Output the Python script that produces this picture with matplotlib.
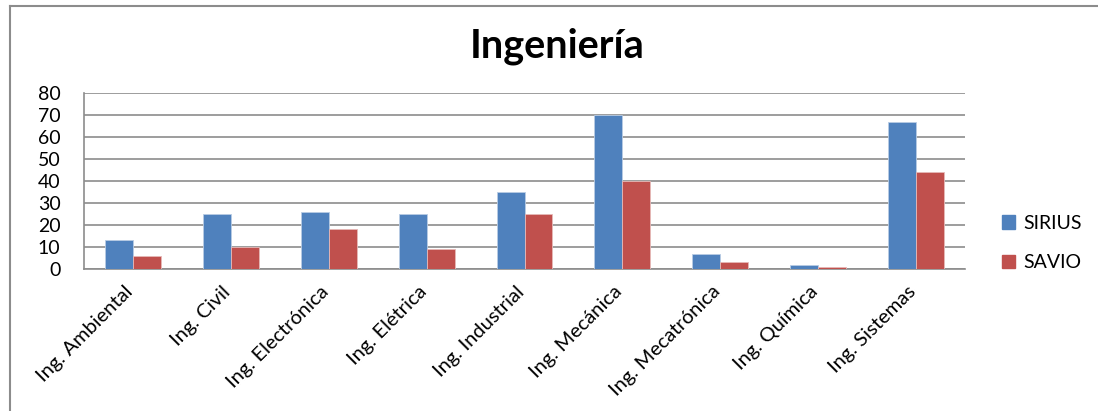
import matplotlib
matplotlib.use("Agg")
import matplotlib.pyplot as plt
import matplotlib.transforms as mtransforms
import numpy as np
from matplotlib.patches import Patch
from matplotlib.lines import Line2D

categories = ["Ing. Ambiental", "Ing. Civil", "Ing. Electrónica", "Ing. Elétrica",
              "Ing. Industrial", "Ing. Mecánica", "Ing. Mecatrónica", "Ing. Química",
              "Ing. Sistemas"]
sirius = [13, 25, 26, 25, 35, 70, 7, 2, 67]
savio = [6, 10, 18, 9, 25, 40, 3, 1, 44]
series_names = ["SIRIUS", "SAVIO"]
colors = ["#4F81BD", "#C0504D"]

plt.rcParams["font.family"] = ["Lato", "DejaVu Sans"]

W, H = 1098, 411
fig = plt.figure(figsize=(W / 100, H / 100), dpi=100)
ax = fig.add_axes([84 / W, 1 - 269 / H, (965 - 84) / W, (269 - 93) / H])

x = np.arange(len(categories))
bw = 0.286
ax.bar(x - bw / 2, sirius, bw, color=colors[0], edgecolor="#b8cce4", linewidth=0.6, zorder=3)
ax.bar(x + bw / 2, savio, bw, color=colors[1], edgecolor="#e6b9b8", linewidth=0.6, zorder=3)

ax.set_xlim(-0.5, len(categories) - 0.5)
ax.set_ylim(0, 80)
ax.set_yticks(range(0, 81, 10))
ax.yaxis.grid(True, color="#8c8c8c", linewidth=1.2, zorder=0)
ax.set_axisbelow(True)
for s in ["top", "right"]:
    ax.spines[s].set_visible(False)
for s in ["left", "bottom"]:
    ax.spines[s].set_color("#8c8c8c")
    ax.spines[s].set_linewidth(1.2)
ax.tick_params(axis="y", length=0, pad=17, labelsize=14)
ax.tick_params(axis="x", length=0, pad=10)
ax.set_xticks(x)
ax.set_xticklabels(categories, rotation=45, ha="right", va="top",
                   rotation_mode="anchor", fontsize=14.5)
shift = mtransforms.ScaledTranslation(-9 / 100, 0, fig.dpi_scale_trans)
for lbl in ax.get_xticklabels():
    lbl.set_transform(lbl.get_transform() + shift)

fig.text(557 / W, 1 - 46 / H, "Ingeniería", ha="center", va="center",
         fontsize=28.5, fontweight="bold")

handles = [Patch(facecolor=c, edgecolor=c) for c in colors]
fig.legend(handles, series_names, loc="center left",
           bbox_to_anchor=(984 / W, 1 - 243 / H), frameon=False,
           fontsize=14, handlelength=0.7, handleheight=0.7,
           handletextpad=0.4, labelspacing=1.15)

# outer chart frame (left and top edges)
fig.add_artist(Line2D([10 / W, 10 / W], [0, 1 - 6 / H], transform=fig.transFigure,
                      color="#8c8c8c", linewidth=1.5))
fig.add_artist(Line2D([10 / W, 1], [1 - 6 / H, 1 - 6 / H], transform=fig.transFigure,
                      color="#8c8c8c", linewidth=1.5))

fig.savefig("out.png", dpi=100)
